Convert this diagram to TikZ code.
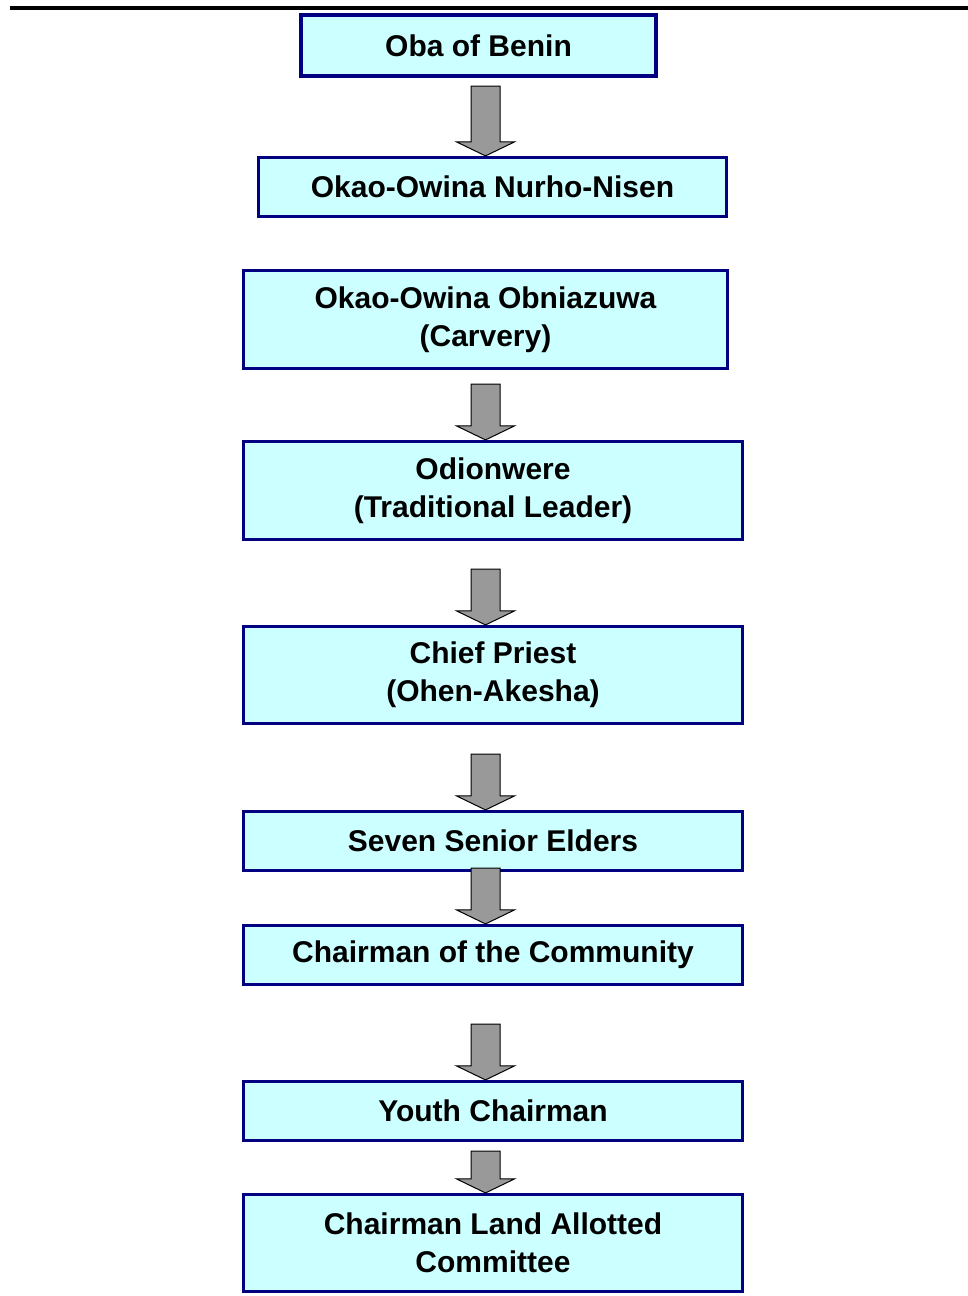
\documentclass[tikz,border=0pt]{standalone}
\usepackage{fontspec}
\setmainfont{Liberation Sans}
\usepackage{tikz}
\usetikzlibrary{calc}
\definecolor{boxfill}{HTML}{CCFFFF}
\definecolor{boxline}{HTML}{000080}
\definecolor{arrowgray}{HTML}{999999}
\begin{document}
\begin{tikzpicture}[x=0.5pt,y=-0.5pt,
  level/.style={rectangle,draw=boxline,fill=boxfill,line width=1.6pt,
    align=center,inner sep=0pt,minimum width=249.5pt,minimum height=29.5pt,
    font=\fontsize{15}{19}\selectfont\bfseries},
  tall/.style={minimum height=48.5pt},
  blockarrow/.style={draw=black,fill=arrowgray,line width=0.5pt,line join=miter}]
\useasboundingbox (0,0) rectangle (968,1296);
\draw[line width=2pt] (10,8) -- (968,8);
\node[level,line width=2.2pt,minimum width=177.5pt,minimum height=30.5pt] (Oba) at (478.5,45.5){Oba of Benin};
\node[level,minimum width=234pt] (Nurho) at (492.5,187){Okao-Owina Nurho-Nisen};
\node[level,tall,minimum width=242pt,minimum height=49pt] (Obniazuwa) at (485.5,319.5){Okao-Owina Obniazuwa\\(Carvery)};
\node[level,tall,minimum height=49pt] (Odionwere) at (493,490.5){Odionwere\\(Traditional Leader)};
\node[level,tall] (Priest) at (493,675){Chief Priest\\(Ohen-Akesha)};
\node[level] (Elders) at (493,841){Seven Senior Elders};
\node[level] (Community) at (493,955){Chairman of the Community};
\node[level] (Youth) at (493,1111){Youth Chairman};
\node[level,tall] (Land) at (493,1243){Chairman Land Allotted\\Committee};
\coordinate (t1) at (485.5,86);
\coordinate (t2) at (485.5,384);
\coordinate (t3) at (485.5,569);
\coordinate (t4) at (485.5,754);
\coordinate (t5) at (485.5,868);
\coordinate (t6) at (485.5,1024);
\coordinate (t7) at (485.5,1151);
\foreach \from/\to in {t1/Nurho,t2/Odionwere,t3/Priest,t4/Elders,t5/Community,t6/Youth,t7/Land}
  \draw[blockarrow] let \p1=(\from), \p2=(\from |- \to.north) in
    (\x1-7.25pt,\y1) -- (\x1+7.25pt,\y1) -- (\x1+7.25pt,\y2+7pt) -- (\x1+14.5pt,\y2+7pt)
    -- (\x2,\y2) -- (\x1-14.5pt,\y2+7pt) -- (\x1-7.25pt,\y2+7pt) -- cycle;
\end{tikzpicture}
\end{document}
